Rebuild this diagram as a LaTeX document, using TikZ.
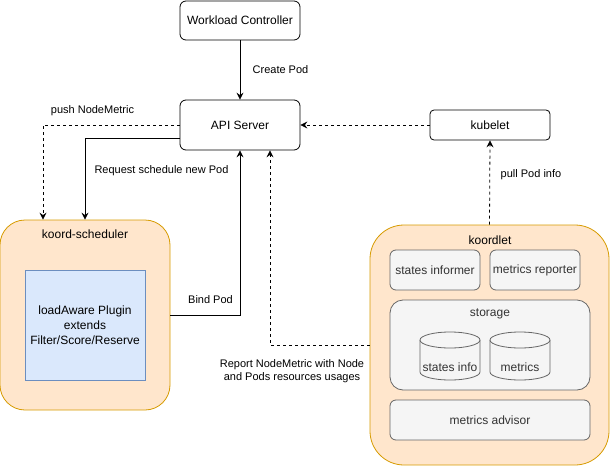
\documentclass[tikz,border=0pt]{standalone}
\usepackage{fontspec}
\setmainfont{Liberation Sans}
\usetikzlibrary{arrows.meta}
\definecolor{orfill}{HTML}{FFE6CC}
\definecolor{ordraw}{HTML}{D79B00}
\definecolor{blfill}{HTML}{DAE8FC}
\definecolor{bldraw}{HTML}{6C8EBF}
\definecolor{grfill}{HTML}{F5F5F5}
\definecolor{grdraw}{HTML}{666666}
\definecolor{grtext}{HTML}{333333}
\begin{document}
\begin{tikzpicture}[x=1pt,y=-1pt,
  every node/.style={font=\fontsize{12}{14}\selectfont, inner sep=0pt},
  wbox/.style={draw=black, fill=white, line width=0.8pt, rounded corners=6pt},
  obox/.style={draw=ordraw, fill=orfill, line width=0.8pt},
  gbox/.style={draw=grdraw, fill=grfill, line width=0.8pt, text=grtext},
  lbl/.style={font=\fontsize{11}{13}\selectfont, align=center},
  conn/.style={line width=0.8pt, -{Stealth[length=7pt,width=7pt,inset=2.5pt]}},
  dconn/.style={conn, dash pattern=on 3pt off 3pt}
]
\useasboundingbox (0,0) rectangle (611,466);
% main boxes
\node[wbox, minimum width=120pt, minimum height=39pt] (wc) at (240,20.5) {Workload Controller};
\node[wbox, minimum width=120pt, minimum height=50pt] (api) at (240,125) {API Server};
\node[wbox, minimum width=120pt, minimum height=30pt, rounded corners=4pt] (kub) at (490,125) {kubelet};
\node[obox, rounded corners=25pt, minimum width=170pt, minimum height=190pt] (ks) at (85,315) {};
\node at (85,234) {koord-scheduler};
\node[draw=bldraw, fill=blfill, line width=0.8pt, minimum width=120pt, minimum height=110pt, align=center, font=\fontsize{12}{15}\selectfont] (la) at (85,325) {loadAware Plugin\\extends\\Filter/Score/Reserve};
\node[obox, rounded corners=34pt, minimum width=239pt, minimum height=240pt] (kl) at (489.5,345) {};
\node at (490,240) {koordlet};
\node[gbox, rounded corners=6pt, minimum width=90pt, minimum height=40pt] (si) at (435,270) {states informer};
\node[gbox, rounded corners=6pt, minimum width=90pt, minimum height=40pt] (mr) at (535,270) {metrics reporter};
\node[gbox, rounded corners=13pt, minimum width=200pt, minimum height=90pt] (st) at (490,345) {};
\node[text=grtext] at (490,314) {storage};
\node[gbox, rounded corners=6pt, minimum width=200pt, minimum height=40pt] (ma) at (490,420) {metrics advisor};
% cylinders
\foreach \cx/\nm/\txt in {450/cyla/states info, 520/cylb/metrics}{
  \fill[grfill] (\cx-30,340) -- (\cx-30,372) arc[start angle=180,end angle=360,x radius=30pt,y radius=8pt] -- (\cx+30,340) -- cycle;
  \draw[grdraw, line width=0.8pt] (\cx-30,340) -- (\cx-30,372) arc[start angle=180,end angle=360,x radius=30pt,y radius=8pt] -- (\cx+30,340);
  \draw[grdraw, fill=grfill, line width=0.8pt] (\cx,340) ellipse[x radius=30pt, y radius=8pt];
  \node[text=grtext] (\nm) at (\cx,367) {\txt};
}
% connectors
\draw[conn] (wc) -- (api);
\draw[dconn] (kub) -- (api);
\draw[dconn] (kl.north) -- (kub.south);
\draw[dconn] (api.west) -| ([xshift=-42pt]ks.north);
\draw[conn] ([yshift=-13pt]api.west) -| (ks.north);
\draw[conn] (ks.east) -| (api.south);
\draw[dconn] (kl.west) -| ([xshift=30pt]api.south);
% labels
\node[lbl] at (280.5,70) {Create Pod};
\node[lbl] at (92.5,111) {push NodeMetric};
\node[lbl] at (161.5,171) {Request schedule new Pod};
\node[lbl] at (210.5,300) {Bind Pod};
\node[lbl] at (531,175) {pull Pod info};
\node[lbl] at (292,371) {Report NodeMetric with Node\\and Pods resources usages};
\end{tikzpicture}
\end{document}
